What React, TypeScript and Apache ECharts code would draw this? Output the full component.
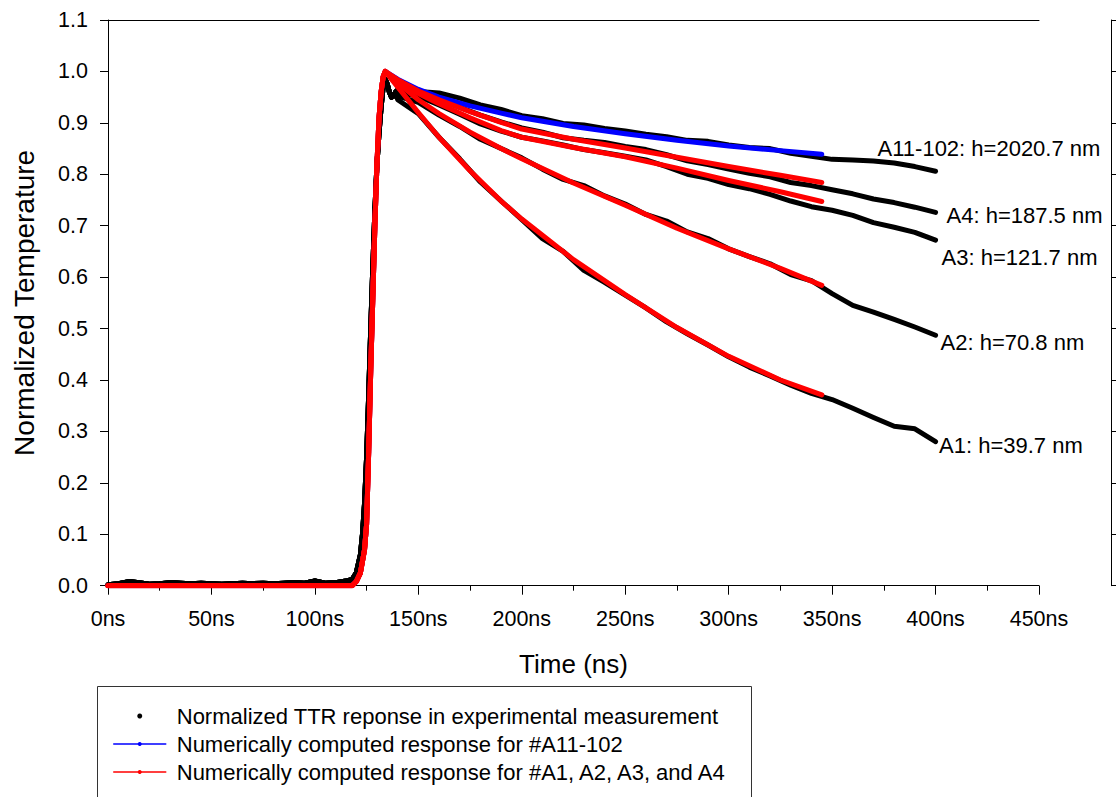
import React, { useEffect, useRef } from 'react';
import * as echarts from 'echarts';

const FONT = '"Liberation Sans", Arial, Helvetica, sans-serif';

const EXP_NAME = 'Normalized TTR reponse in experimental measurement';
const BLUE_NAME = 'Numerically computed response for #A11-102';
const RED_NAME = 'Numerically computed response for #A1, A2, A3, and A4';

const xTickUnit = 'ns';

// Experimental data (black) – shared baseline and rise
const expBaseTime = [0, 5, 10, 15, 20, 25, 30, 35, 40, 45, 50, 55, 60, 65, 70, 75, 80, 85, 90, 95, 100, 105, 110, 115];
const expBaseValue = [0.002, 0.004, 0.008, 0.006, 0.003, 0.004, 0.006, 0.005, 0.004, 0.005, 0.004, 0.003, 0.004, 0.005, 0.004, 0.005, 0.004, 0.005, 0.006, 0.005, 0.009, 0.005, 0.006, 0.009];
const expRiseTime = [118, 120, 122, 123, 124, 125, 126, 127, 128, 129, 130, 131, 132, 133, 134, 135, 136, 137, 138, 139];
const expRiseValue = [0.012, 0.025, 0.06, 0.1, 0.16, 0.25, 0.37, 0.5, 0.62, 0.73, 0.82, 0.88, 0.93, 0.97, 0.985, 0.975, 0.96, 0.95, 0.952, 0.96];
const expDecayTime = [140, 150, 160, 170, 180, 190, 200, 210, 220, 230, 240, 250, 260, 270, 280, 290, 300, 310, 320, 330, 340, 350, 360, 370, 380, 390, 400];
const expA11 = [0.965, 0.961, 0.958, 0.948, 0.935, 0.926, 0.914, 0.908, 0.899, 0.896, 0.889, 0.884, 0.878, 0.873, 0.866, 0.864, 0.857, 0.852, 0.85, 0.841, 0.835, 0.829, 0.828, 0.826, 0.822, 0.815, 0.806];
const expA4 = [0.962, 0.957, 0.945, 0.93, 0.915, 0.902, 0.89, 0.882, 0.871, 0.866, 0.862, 0.854, 0.848, 0.838, 0.826, 0.819, 0.81, 0.802, 0.795, 0.784, 0.778, 0.77, 0.762, 0.752, 0.745, 0.736, 0.726];
const expA3 = [0.958, 0.952, 0.935, 0.917, 0.898, 0.884, 0.872, 0.865, 0.857, 0.848, 0.842, 0.835, 0.828, 0.815, 0.8, 0.792, 0.78, 0.772, 0.761, 0.748, 0.737, 0.73, 0.72, 0.706, 0.697, 0.687, 0.672];
const expA2 = [0.952, 0.94, 0.915, 0.893, 0.868, 0.85, 0.832, 0.81, 0.79, 0.778, 0.758, 0.742, 0.722, 0.709, 0.688, 0.675, 0.655, 0.64, 0.626, 0.605, 0.593, 0.568, 0.545, 0.532, 0.518, 0.503, 0.487];
const expA1 = [0.945, 0.918, 0.872, 0.83, 0.785, 0.748, 0.712, 0.675, 0.65, 0.613, 0.59, 0.565, 0.54, 0.513, 0.49, 0.468, 0.445, 0.425, 0.408, 0.39, 0.374, 0.362, 0.345, 0.327, 0.31, 0.305, 0.28];

// Model data – shared baseline and rise
const modelBaseTime = [0, 118];
const modelBaseValue = [0, 0];
const modelRiseTime = [120, 122, 124, 125, 126, 127, 128, 129, 130, 131, 132, 133, 134];
const modelRiseValue = [0.008, 0.025, 0.07, 0.12, 0.26, 0.42, 0.56, 0.7, 0.82, 0.91, 0.96, 0.99, 1.0];
const modelDecayTime = [140, 150, 160, 175, 190, 200, 225, 250, 275, 300, 325, 345];
const modelA11 = [0.985, 0.965, 0.95, 0.933, 0.919, 0.91, 0.893, 0.879, 0.866, 0.855, 0.846, 0.839];
const modelA4 = [0.984, 0.962, 0.945, 0.922, 0.901, 0.888, 0.868, 0.851, 0.833, 0.815, 0.798, 0.784];
const modelA3 = [0.981, 0.957, 0.937, 0.91, 0.885, 0.872, 0.852, 0.834, 0.812, 0.788, 0.766, 0.747];
const modelA2 = [0.978, 0.945, 0.918, 0.882, 0.85, 0.83, 0.783, 0.74, 0.695, 0.655, 0.617, 0.584];
const modelA1 = [0.97, 0.92, 0.872, 0.807, 0.748, 0.713, 0.634, 0.566, 0.502, 0.446, 0.4, 0.371];

const sampleLabels = ['A11-102: h=2020.7 nm', 'A4: h=187.5 nm', 'A3: h=121.7 nm', 'A2: h=70.8 nm', 'A1: h=39.7 nm'];

function pairs(t: number[], v: number[]) {
  return t.map((x, i) => [x, v[i]]);
}

export default function App() {
  const ref = useRef<HTMLDivElement>(null);
  useEffect(() => {
    const chart = echarts.init(ref.current!, null, { renderer: 'svg' });
    const expTime = [...expBaseTime, ...expRiseTime, ...expDecayTime];
    const expPre = [...expBaseValue, ...expRiseValue];
    const modTime = [...modelBaseTime, ...modelRiseTime, ...modelDecayTime];
    const modPre = [...modelBaseValue, ...modelRiseValue];

    const expSets = [expA11, expA4, expA3, expA2, expA1];
    const expSeries = expSets.map((d) => ({
      name: EXP_NAME,
      type: 'line',
      data: pairs(expTime, [...expPre, ...d]),
      symbol: 'none',
      lineStyle: { color: '#000', width: 5, join: 'round', cap: 'round' },
      itemStyle: { color: '#000' },
      z: 2,
    }));
    const blueSeries = {
      name: BLUE_NAME,
      type: 'line',
      data: pairs(modTime, [...modPre, ...modelA11]),
      symbol: 'none',
      lineStyle: { color: '#0000ff', width: 5, cap: 'round', join: 'round' },
      itemStyle: { color: '#0000ff' },
      z: 3,
    };
    const redSeries = [modelA4, modelA3, modelA2, modelA1].map((d) => ({
      name: RED_NAME,
      type: 'line',
      data: pairs(modTime, [...modPre, ...d]),
      symbol: 'none',
      lineStyle: { color: '#ff0000', width: 5, cap: 'round', join: 'round' },
      itemStyle: { color: '#ff0000' },
      z: 4,
    }));

    const axisLine = { show: true, onZero: false, lineStyle: { color: '#000', width: 1 } };
    const option: any = {
      animation: false,
      backgroundColor: '#fff',
      grid: { left: 108, right: 77, top: 20, bottom: 211.3, containLabel: false },
      legend: {
        orient: 'vertical',
        left: 108,
        top: 700,
        itemWidth: 52,
        itemHeight: 5,
        itemGap: 6,
        selectedMode: false,
        textStyle: { fontFamily: FONT, fontSize: 22, color: '#000', lineHeight: 22, padding: [0, 0, 0, 6] },
        data: [
          { name: EXP_NAME, icon: 'circle', itemStyle: { color: '#000' } },
          { name: BLUE_NAME, lineStyle: { width: 1.5 } },
          { name: RED_NAME, lineStyle: { width: 1.5 } },
        ],
      },
      xAxis: [
        {
          type: 'value',
          min: 0,
          max: 450,
          interval: 50,
          axisLine,
          axisTick: { show: true, length: 9, lineStyle: { color: '#000' } },
          minorTick: { show: true, splitNumber: 2, length: 5, lineStyle: { color: '#000' } },
          splitLine: { show: false },
          axisLabel: {
            formatter: (v: number) => `${v}${xTickUnit}`,
            fontFamily: FONT,
            fontSize: 21.5,
            color: '#000',
            margin: 22,
          },
          name: 'Time (ns)',
          nameLocation: 'middle',
          nameGap: 65,
          nameTextStyle: { fontFamily: FONT, fontSize: 26, color: '#000' },
        },
        {
          type: 'value',
          position: 'top',
          min: 0,
          max: 450,
          interval: 50,
          axisLine,
          axisTick: { show: false },
          axisLabel: { show: false },
          splitLine: { show: false },
        },
      ],
      yAxis: [
        {
          type: 'value',
          min: 0,
          max: 1.1,
          interval: 0.1,
          axisLine,
          axisTick: { show: true, length: 8, lineStyle: { color: '#000' } },
          splitLine: { show: false },
          axisLabel: {
            formatter: (v: number) => v.toFixed(1),
            fontFamily: FONT,
            fontSize: 21.5,
            color: '#000',
            margin: 20,
          },
          name: 'Normalized Temperature',
          nameLocation: 'middle',
          nameGap: 70,
          nameTextStyle: { fontFamily: FONT, fontSize: 28, color: '#000' },
        },
        {
          type: 'value',
          position: 'right',
          offset: 72,
          min: 0,
          max: 1.1,
          interval: 0.1,
          axisLine,
          axisTick: { show: true, length: 8, lineStyle: { color: '#000' } },
          splitLine: { show: false },
          axisLabel: { show: false },
        },
      ],
      series: [...expSeries, blueSeries, ...redSeries],
    };
    chart.setOption(option);

    const offsets = [
      [-58, -23],
      [11, 3],
      [6, 17],
      [5, 7],
      [3.5, 4],
    ];
    const lastT = expDecayTime[expDecayTime.length - 1];
    const graphics: any[] = expSets.map((d, i) => {
      const p = chart.convertToPixel({ xAxisIndex: 0, yAxisIndex: 0 }, [lastT, d[d.length - 1]]) as number[];
      return {
        type: 'text',
        x: p[0] + offsets[i][0],
        y: p[1] + offsets[i][1],
        z: 10,
        style: {
          text: sampleLabels[i],
          fontFamily: FONT,
          fontSize: 22,
          fill: '#000',
          align: 'left',
          verticalAlign: 'middle',
        },
      };
    });
    graphics.push({
      type: 'rect',
      shape: { x: 97.5, y: 686.5, width: 654, height: 140 },
      style: { fill: 'none', stroke: '#333', lineWidth: 1 },
      z: 1,
    });
    chart.setOption({ graphic: graphics });

    return () => chart.dispose();
  }, []);
  return <div ref={ref} style={{ position: 'fixed', left: 0, top: 0, width: 1116, height: 797 }} />;
}
